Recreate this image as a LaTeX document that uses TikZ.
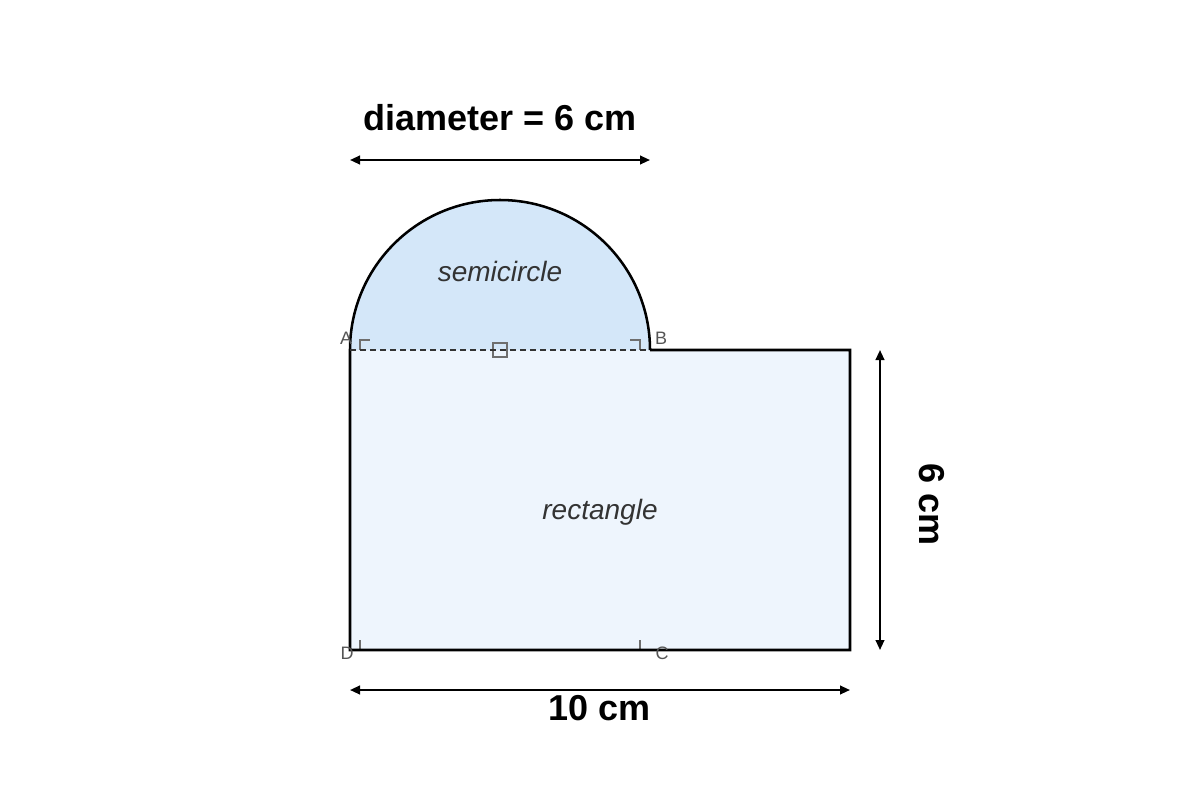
\documentclass[tikz,border=0pt]{standalone}
\usepackage{fontspec}
\setmainfont{Liberation Sans}
\usepackage{tikz}
\usetikzlibrary{arrows.meta}
\definecolor{semifill}{RGB}{212,231,249}
\definecolor{rectfill}{RGB}{238,245,253}
\definecolor{markgray}{RGB}{110,110,110}
\definecolor{lettergray}{RGB}{85,85,85}
\definecolor{shapetext}{RGB}{51,51,51}

\begin{document}
\begin{tikzpicture}[x=0.75pt,y=0.75pt,yscale=-1,xscale=1,
  outline/.style={draw=black,line width=1.9pt,line join=miter},
  dimline/.style={line width=1.5pt,{Triangle[length=7.5pt,width=6.5pt]}-{Triangle[length=7.5pt,width=6.5pt]}},
  anglemark/.style={draw=markgray,line width=0.8pt},
  corner/.style={text=lettergray,font=\fontsize{13.5}{16}\selectfont,inner sep=0pt},
  shapename/.style={text=shapetext,font=\fontsize{21}{25}\itshape\selectfont,inner sep=0pt},
  dimtext/.style={font=\fontsize{27}{32}\bfseries\selectfont,inner sep=0pt}]
\useasboundingbox (0,0) rectangle (1200,800);

%Corner points
\coordinate (A) at (350,350);
\coordinate (B) at (650,350);
\coordinate (C) at (850,650);
\coordinate (D) at (350,650);
\coordinate (TR) at (850,350);
\coordinate (Cmark) at (640,650);

%Shapes
\fill[rectfill] (A) rectangle (C);
\fill[semifill] (A) arc (180:360:150) -- cycle;

%Right angle marks
\draw[anglemark] (360,350) -- (360,340) -- (370,340);
\draw[anglemark] (630,340) -- (640,340) -- (640,350);
\draw[anglemark] (360,640) -- (360,650) -- (370,650);
\draw[anglemark] (640,640) -- (Cmark) -- (630,650);
\draw[anglemark] (493,343) rectangle (507,357);

%Outline
\draw[outline] (B) -- (TR) -- (C) -- (D) -- (A) arc (180:360:150);
\draw[draw=black!80,line width=1.5pt,dash pattern=on 4.5pt off 3pt] (A) -- (B);

%Dimension lines
\coordinate (topL) at (350,160);
\coordinate (topR) at (650,160);
\coordinate (botL) at (350,690);
\coordinate (botR) at (850,690);
\coordinate (sideT) at (880,350);
\coordinate (sideB) at (880,650);
\draw[dimline] (topL) -- (topR);
\draw[dimline] (botL) -- (botR);
\draw[dimline] (sideT) -- (sideB);

% Text Node
\node[corner] (labA) at (346,338) {A};
\node[corner] (labB) at (661,338) {B};
\node[corner] (labC) at (662,653) {C};
\node[corner] (labD) at (347,653) {D};
% Text Node
\node[shapename] (semi) at (500,271) {semicircle};
\node[shapename] (rect) at (600,512) {rectangle};
% Text Node
\node[dimtext] (diam) at (500,118) {diameter = 6 cm};
\node[dimtext] (width) at (600,708) {10 cm};
\node[dimtext,rotate=-90] (height) at (932,505) {6 cm};

\end{tikzpicture}
\end{document}
